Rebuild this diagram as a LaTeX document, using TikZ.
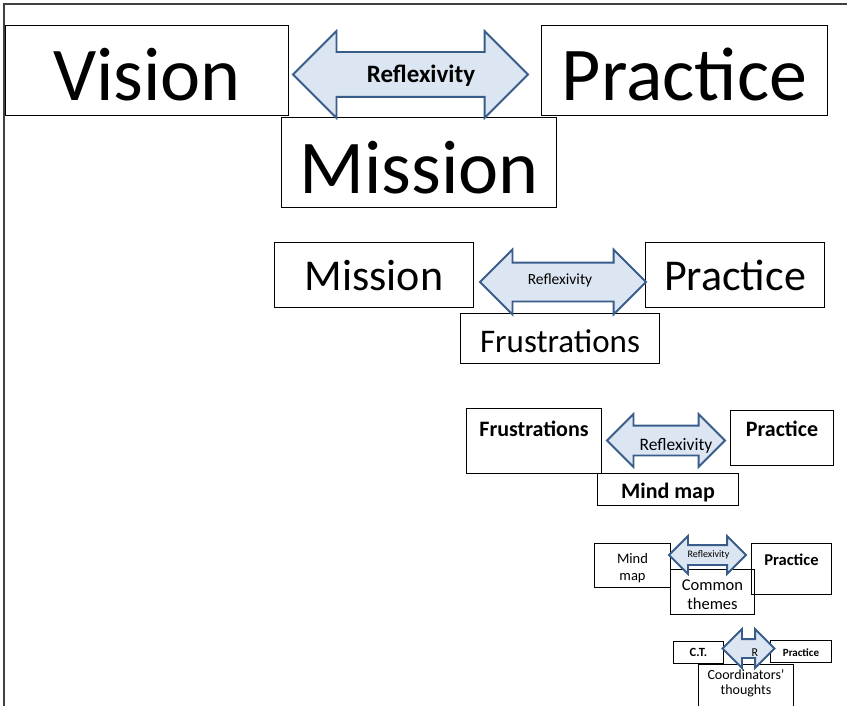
\documentclass[tikz,border=0pt]{standalone}
\usepackage{fontspec}
\setmainfont{Carlito}
\usepackage{tikz}
\usetikzlibrary{shapes.arrows}
\definecolor{arrowline}{RGB}{56,93,138}
\definecolor{arrowfill}{RGB}{220,230,242}
\definecolor{framegray}{RGB}{64,64,64}
\newcommand{\boxfont}[2]{\fontsize{#1}{#2}\selectfont}

\begin{document}
\begin{tikzpicture}[x=1pt, y=-1pt,
    box/.style={draw, line width=1pt, anchor=north west, inner sep=0pt, align=center},
    twoway/.style={double arrow, draw=arrowline, fill=arrowfill, line width=1.8pt, inner sep=0pt, text depth=0pt},
    tag/.style={anchor=base, inner sep=0pt}]
\useasboundingbox (0,0) rectangle (847,706);
\draw[framegray, line width=2pt] (3.5,706) -- (3.5,4.5) -- (847,4.5);

% first row
\node[box, minimum width=283pt, text height=75pt, text depth=15pt, font=\boxfont{76}{80}] (vision) at (5,25) {Vision};
\node[box, minimum width=286pt, text height=75pt, text depth=15pt, font=\boxfont{76}{80}] (prac1) at (541,25) {Practice};
\node[box, minimum width=275pt, text height=76pt, text depth=14pt, font=\boxfont{76}{80}] (miss1) at (281,117) {Mission};
\node[twoway, minimum height=235pt, text height=43pt, double arrow head extend=21pt] (arr1) at (410.5,74.5) {};
\node[tag, font=\bfseries\boxfont{25}{30}] (refl1) at (421,83) {Reflexivity};

% second row
\node[box, minimum width=199pt, text height=48pt, text depth=17pt, font=\boxfont{44}{50}] (miss2) at (274,242) {Mission};
\node[box, minimum width=179pt, text height=48pt, text depth=17pt, font=\boxfont{44}{50}] (prac2) at (645,242) {Practice};
\node[box, minimum width=199pt, text height=39pt, text depth=11pt, font=\boxfont{33}{38}] (frus2) at (460,313) {Frustrations};
\node[twoway, minimum height=166pt, text height=37pt, double arrow head extend=13pt] (arr2) at (563,282) {};
\node[tag, font=\boxfont{15.5}{18}] (refl2) at (560,284) {Reflexivity};

% third row
\node[box, minimum width=135pt, text height=28pt, text depth=37pt, font=\bfseries\boxfont{22}{26}] (frus3) at (466,408) {Frustrations};
\node[box, minimum width=103pt, text height=26pt, text depth=29pt, font=\bfseries\boxfont{22}{26}] (prac3) at (730,410) {Practice};
\node[box, minimum width=141pt, text height=25pt, text depth=7pt, font=\bfseries\boxfont{22}{26}] (mind3) at (597,473) {Mind map};
\node[twoway, minimum height=118pt, text height=28pt, double arrow head extend=11.5pt] (arr3) at (666,440.5) {};
\node[tag, font=\boxfont{17.5}{20}] (refl3) at (676,450) {Reflexivity};

% fourth row (two-line boxes: text height runs to the last baseline)
\node[box, minimum width=76pt, text height=37pt, text depth=7pt, font=\boxfont{14.5}{17}] (mind4) at (594,543) {Mind\\map};
\node[box, minimum width=80pt, text height=22pt, text depth=29pt, font=\bfseries\boxfont{16.5}{20}] (prac4) at (751,543) {Practice};
\node[box, minimum width=84pt, text height=40pt, text depth=5pt, font=\boxfont{16.5}{19}] (comm4) at (670,569) {Common\\themes};
\node[twoway, minimum height=77pt, text height=18pt, double arrow head extend=9pt] (arr4) at (707.5,555) {};
\node[tag, font=\boxfont{10}{12}] (refl4) at (708.5,557) {Reflexivity};

% fifth row
\node[box, minimum width=50pt, text height=15pt, text depth=7pt, font=\bfseries\boxfont{12.5}{14}] (ct5) at (673,641) {C.T.};
\node[box, minimum width=61pt, text height=16pt, text depth=6pt, font=\bfseries\boxfont{11}{13}] (prac5) at (770,640) {Practice};
\node[box, minimum width=95pt, text height=30pt, text depth=22pt, font=\boxfont{14}{15.5}] (coord5) at (698,664) {Coordinators'\\thoughts};
\node[twoway, minimum height=52pt, text height=17pt, double arrow head extend=10pt] (arr5) at (748.5,648.5) {};
\node[tag, font=\boxfont{12}{14}] (r5) at (755,656) {R};
\end{tikzpicture}
\end{document}
